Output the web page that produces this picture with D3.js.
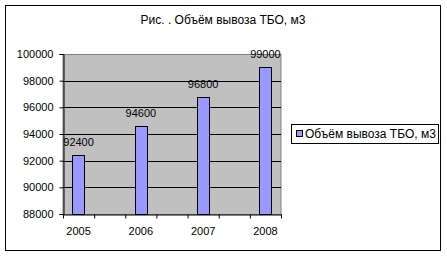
<!DOCTYPE html>
<html>
<head>
<meta charset="utf-8">
<script src="https://cdn.jsdelivr.net/npm/d3@7"></script>
<style>
	body { margin: 0; background: #fff; }
	text { font-family: "Liberation Sans", Arial, sans-serif; fill: #000; }
</style>
</head>
<body>
<svg id="svg"></svg>
<script>
var width = 447, height = 257;

var title = "Рис. . Объём вывоза ТБО, м3";
var seriesName = "Объём вывоза ТБО, м3";
var categories = ["2005", "2006", "2007", "2008"];
var values = [92400, 94600, 96800, 99000];
var yTicks = [88000, 90000, 92000, 94000, 96000, 98000, 100000];

var svg = d3.select("#svg")
	.attr("width", width)
	.attr("height", height);

// chart frame
svg.append("rect")
	.attr("x", 5.5)
	.attr("y", 5.5)
	.attr("width", 435)
	.attr("height", 245)
	.style("fill", "#fff")
	.style("stroke", "#000");

svg.append("text")
	.attr("x", 223)
	.attr("y", 24)
	.style("text-anchor", "middle")
	.style("font-size", "12px")
	.text(title);

// empty slots between the years, as in the original sheet
var slots = [];
categories.forEach(function(c, i) {
	if (i > 0) slots.push("gap" + i);
	slots.push(c);
});

var plotLeft = 63, plotRight = 281, plotTop = 54, plotBottom = 214;

var x = d3.scaleBand()
	.domain(slots)
	.range([plotLeft, plotRight]);
var xEdge = d3.scaleLinear()
	.domain([0, slots.length])
	.range([plotLeft, plotRight]);
var y = d3.scaleLinear()
	.domain([d3.min(yTicks), d3.max(yTicks)])
	.range([plotBottom, plotTop]);

svg.append("rect")
	.attr("x", plotLeft)
	.attr("y", plotTop + 0.5)
	.attr("width", plotRight - plotLeft)
	.attr("height", plotBottom - plotTop)
	.style("fill", "#c0c0c0")
	.style("stroke", "#808080");

svg.append("g")
	.selectAll("line")
	.data(yTicks.slice(1, -1))
	.enter()
	.append("line")
	.attr("x1", plotLeft)
	.attr("x2", plotRight)
	.attr("y1", function(d) { return Math.round(y(d)) + 0.5; })
	.attr("y2", function(d) { return Math.round(y(d)) + 0.5; })
	.style("stroke", "#000");

var barWidth = x.bandwidth() * 0.4;
var bar = svg.selectAll("g.bar")
	.data(categories)
	.enter()
	.append("g")
	.attr("class", "bar");
bar.append("rect")
	.attr("x", function(d) { return Math.round(x(d) + (x.bandwidth() - barWidth) / 2) + 0.5; })
	.attr("y", function(d, i) { return Math.round(y(values[i])) + 0.5; })
	.attr("width", Math.round(barWidth))
	.attr("height", function(d, i) { return plotBottom - Math.round(y(values[i])); })
	.style("fill", "#9999ff")
	.style("stroke", "#000");
bar.append("text")
	.attr("x", function(d) { return x(d) + x.bandwidth() / 2; })
	.attr("y", function(d, i) { return y(values[i]) - 9; })
	.style("text-anchor", "middle")
	.style("font-size", "11px")
	.text(function(d, i) { return values[i]; });

var yAxis = d3.axisLeft(y)
	.tickValues(yTicks)
	.tickSize(4)
	.tickPadding(6)
	.tickFormat(d3.format("d"));
var gy = svg.append("g")
	.attr("transform", "translate(" + (plotLeft + 0.5) + ",0)")
	.call(yAxis);
gy.selectAll("text").style("font-size", "11px").style("font-family", null);

var xTicks = d3.axisBottom(xEdge)
	.tickValues(d3.range(slots.length + 1))
	.tickSize(4)
	.tickSizeOuter(0)
	.tickFormat("");
svg.append("g")
	.attr("transform", "translate(0," + (plotBottom + 0.5) + ")")
	.call(xTicks);

var xAxis = d3.axisBottom(x)
	.tickSize(0)
	.tickPadding(13)
	.tickFormat(function(d) { return d.indexOf("gap") === 0 ? "" : d; });
var gx = svg.append("g")
	.attr("transform", "translate(0," + plotBottom + ")")
	.call(xAxis);
gx.select(".domain").remove();
gx.selectAll("text").style("font-size", "11px").style("font-family", null);

// legend
var legend = svg.append("g");
legend.append("rect")
	.attr("x", 291.5)
	.attr("y", 124.5)
	.attr("width", 147)
	.attr("height", 19)
	.style("fill", "#fff")
	.style("stroke", "#000");
legend.append("rect")
	.attr("x", 296.5)
	.attr("y", 130.5)
	.attr("width", 6)
	.attr("height", 6)
	.style("fill", "#9999ff")
	.style("stroke", "#000");
legend.append("text")
	.attr("x", 305)
	.attr("y", 138)
	.style("font-size", "12px")
	.text(seriesName);
</script>
</body>
</html>
